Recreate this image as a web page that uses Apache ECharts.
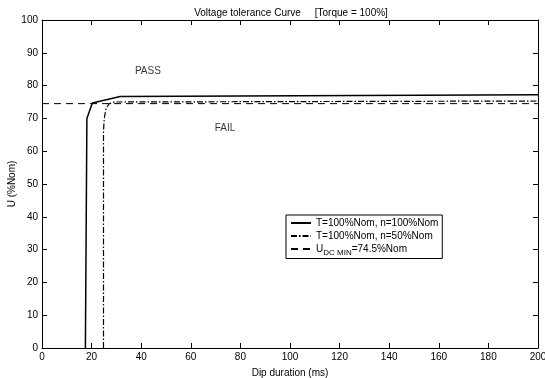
<!DOCTYPE html>
<html><head><meta charset="utf-8">
<script src="https://cdn.jsdelivr.net/npm/echarts@6/dist/echarts.min.js"></script>
<style>html,body{margin:0;padding:0;background:#fff}#c{width:545px;height:378px}</style>
</head><body><div id="c"></div>
<script>
// Data
var xTicks = [0,20,40,60,80,100,120,140,160,180,200];
var yTicks = [0,10,20,30,40,50,60,70,80,90,100];
var curveFull = [[17.5,0],[18.1,70],[20.3,74.7],[31.5,76.7],[200,77.2]];
var curveHalf = [[24.8,0],[24.8,66],[25.1,70],[25.8,73],[27,74.4],[29,75],[200,75.3]];
var udcMin = [[0,74.5],[200,74.5]];
var regionLabels = [[42.7,84.3,'PASS'],[73.8,67,'FAIL']];
var seriesNames = ['T=100%Nom, n=100%Nom','T=100%Nom, n=50%Nom','UDC MIN=74.5%Nom'];

var font = 'Liberation Sans, Arial, sans-serif';
var chart = echarts.init(document.getElementById('c'));
var axisCommon = {
  min: 0, interval: 20,
  axisLine: {show: true, onZero: false, lineStyle: {color: '#000', width: 1}},
  axisTick: {show: true, inside: true, length: 5, lineStyle: {color: '#000'}},
  splitLine: {show: false}
};
chart.setOption({
  animation: false,
  backgroundColor: '#fff',
  color: ['#000', '#000', '#000', '#000'],
  title: {
    text: 'Voltage tolerance Curve     [Torque = 100%]',
    left: 286, textAlign: 'center', top: 3,
    textStyle: {fontSize: 10, fontWeight: 'normal', color: '#000', fontFamily: font}
  },
  grid: {left: 42, right: 7, top: 20, bottom: 30, containLabel: false, outerBoundsMode: 'none'},
  xAxis: [
    Object.assign({}, axisCommon, {type: 'value', max: 200, position: 'bottom',
      name: 'Dip duration (ms)', nameLocation: 'middle', nameGap: 20, nameMoveOverlap: false,
      nameTextStyle: {fontSize: 10, color: '#000', fontFamily: font},
      axisLabel: {fontSize: 10, color: '#000', fontFamily: font, margin: 4,
        formatter: function(v){ return xTicks.indexOf(v) >= 0 ? String(v) : ''; }}}),
    Object.assign({}, axisCommon, {type: 'value', max: 200, position: 'top', axisLabel: {show: false}})
  ],
  yAxis: [
    Object.assign({}, axisCommon, {type: 'value', max: 100, interval: 10, position: 'left',
      name: 'U (%Nom)', nameLocation: 'middle', nameGap: 25, nameRotate: 90, nameMoveOverlap: false,
      nameTextStyle: {fontSize: 10, color: '#000', fontFamily: font},
      axisLabel: {fontSize: 10, color: '#000', fontFamily: font, margin: 4,
        formatter: function(v){ return yTicks.indexOf(v) >= 0 ? String(v) : ''; }}}),
    Object.assign({}, axisCommon, {type: 'value', max: 100, interval: 10, position: 'right', axisLabel: {show: false}})
  ],
  legend: {
    orient: 'vertical', left: 286, top: 215,
    itemWidth: 20, itemHeight: 10, itemGap: 3,
    borderColor: '#000', borderWidth: 1, borderRadius: 0,
    padding: [3, 4, 2, 4], backgroundColor: '#fff',
    itemStyle: {opacity: 0},
    data: seriesNames,
    textStyle: {fontSize: 10, color: '#000', fontFamily: font,
      rich: {
        u: {fontSize: 10, color: '#000', fontFamily: font},
        s: {fontSize: 8, color: '#000', fontFamily: font, padding: [7, 0, 0, 0]}
      }},
    formatter: function(n){
      if (n === seriesNames[2]) return '{u|U}{s|DC MIN}{u|=74.5%Nom}';
      return n;
    }
  },
  series: [
    {name: seriesNames[0], type: 'line', data: curveFull, symbol: 'none', color: '#000',
      lineStyle: {color: '#000', width: 1.5, type: 'solid'}, z: 3},
    {name: seriesNames[1], type: 'line', data: curveHalf, symbol: 'none', color: '#000',
      lineStyle: {color: '#000', width: 1.2, type: [6, 2, 1.5, 2]}, z: 3},
    {name: seriesNames[2], type: 'line', data: udcMin, symbol: 'none', color: '#000',
      lineStyle: {color: '#000', width: 1, type: [7, 5]}, z: 2},
    {type: 'scatter', data: regionLabels, symbolSize: 0, silent: true,
      label: {show: true, position: 'inside', fontSize: 10, color: '#000', fontFamily: font,
        formatter: function(p){ return p.data[2]; }}}
  ]
});
</script></body></html>
